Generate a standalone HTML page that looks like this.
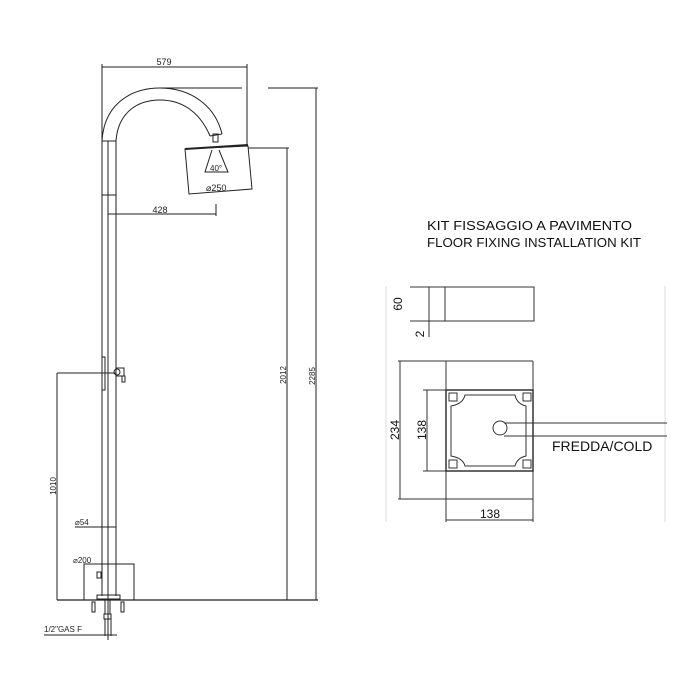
<!DOCTYPE html>
<html><head><style>body{margin:0;background:#fff}svg{display:block}</style></head><body>
<svg width="700" height="700" viewBox="0 0 700 700" font-family="Liberation Sans, sans-serif">
<g fill="none" stroke="#222" stroke-width="1">
<line x1="102" y1="67" x2="247" y2="67"/>
<line x1="102" y1="64" x2="102" y2="141"/>
<line x1="247" y1="64" x2="247" y2="146"/>
<path d="M102,141 C104,105 130,88 160,88 C190,88 215,105 222,134"/>
<path d="M116,141 C118,112 138,100 160,100 C182,100 200,112 210,136"/>
<line x1="210" y1="136" x2="222" y2="134"/>
<rect x="213" y="134" width="5" height="8"/>
<line x1="102" y1="141" x2="102" y2="596"/>
<line x1="108" y1="141" x2="108" y2="640"/>
<line x1="116" y1="141" x2="116" y2="596"/>
<line x1="102" y1="141" x2="116" y2="141"/>
<line x1="102" y1="195" x2="116" y2="195"/>
<polygon points="185,149 248,146 252,189 189,194"/>
<line x1="185" y1="149" x2="248" y2="145" stroke-width="2"/>
<path d="M212,150 L205,172 L228,172 L219,150"/>
<line x1="160" y1="88" x2="242" y2="88"/>
<line x1="268" y1="88" x2="318" y2="88"/>
<line x1="316" y1="88" x2="316" y2="600"/>
<line x1="248" y1="148" x2="289" y2="148"/>
<line x1="287" y1="148" x2="287" y2="600"/>
<line x1="108" y1="214" x2="216" y2="214"/>
<line x1="216" y1="204" x2="216" y2="216"/>
<rect x="102" y="357" width="3" height="33"/>
<line x1="57" y1="373" x2="116" y2="373"/>
<line x1="57" y1="373" x2="57" y2="600"/>
<path d="M116,368 h8 v8 h-8 z"/>
<rect x="122" y="376" width="3" height="6"/>
<circle cx="117" cy="372" r="3"/>
<line x1="75" y1="527" x2="116" y2="527"/>
<rect x="84" y="564" width="50" height="36"/>
<rect x="97" y="572" width="4" height="6"/>
<rect x="97" y="595" width="23" height="4"/>
<line x1="57" y1="600" x2="318" y2="600" stroke-width="1.3"/>
<rect x="92" y="602" width="3" height="10"/>
<rect x="121" y="602" width="3" height="10"/>
<rect x="105" y="600" width="5" height="14"/>
<rect x="104" y="614" width="7" height="5"/>
<line x1="105" y1="619" x2="105" y2="636"/>
<line x1="111" y1="619" x2="111" y2="636"/>
<line x1="44" y1="635" x2="117" y2="635"/>
</g>
<g font-size="9" fill="#222">
<text x="164" y="65" text-anchor="middle">579</text>
<text x="160" y="213" text-anchor="middle">428</text>
<text x="210" y="171" font-size="8">40°</text>
<text x="206" y="191">⌀250</text>
<text x="75" y="525" font-size="8">⌀54</text>
<text x="73" y="563" font-size="8">⌀200</text>
<text x="44" y="632" font-size="8">1/2"GAS F</text>
<text transform="translate(56,486) rotate(-90)" font-size="8" text-anchor="middle">1010</text>
<text transform="translate(286,375) rotate(-90)" font-size="8" text-anchor="middle">2012</text>
<text transform="translate(315,376) rotate(-90)" font-size="8" text-anchor="middle">2285</text>
</g>
<g font-size="12.5" fill="#111">
<text x="427" y="230" textLength="205" lengthAdjust="spacingAndGlyphs">KIT FISSAGGIO A PAVIMENTO</text>
<text x="427" y="247" textLength="214" lengthAdjust="spacingAndGlyphs">FLOOR FIXING INSTALLATION KIT</text>
<text x="552" y="451" font-size="14">FREDDA/COLD</text>
</g>
<g fill="none" stroke="#333" stroke-width="1">
<line x1="386" y1="286" x2="386" y2="522" stroke="#ddd"/>
<line x1="665" y1="286" x2="665" y2="522" stroke="#ddd"/>
<rect x="445" y="287" width="89" height="34"/>
<line x1="410" y1="287" x2="445" y2="287"/>
<line x1="410" y1="321" x2="445" y2="321"/>
<line x1="429" y1="287" x2="429" y2="337"/>
<line x1="446" y1="361" x2="446" y2="522"/>
<line x1="533" y1="361" x2="533" y2="522"/>
<line x1="398" y1="361" x2="533" y2="361"/>
<line x1="398" y1="499" x2="533" y2="499"/>
<line x1="400" y1="361" x2="400" y2="499"/>
<rect x="446" y="390" width="87" height="81" stroke-width="1.5"/>
<line x1="423" y1="390" x2="446" y2="390"/>
<line x1="423" y1="471" x2="446" y2="471"/>
<line x1="427" y1="390" x2="427" y2="471"/>
<path d="M465,395 H515 Q517,404 526,406 V456 Q517,458 515,466 H465 Q463,458 451,456 V406 Q463,404 465,395 Z"/>
<rect x="449" y="393" width="8" height="8"/><rect x="523" y="393" width="8" height="8"/>
<rect x="449" y="460" width="8" height="8"/><rect x="523" y="460" width="8" height="8"/>
<circle cx="500" cy="428" r="7"/>
<line x1="504" y1="423" x2="667" y2="423"/>
<line x1="504" y1="436" x2="667" y2="436"/>
<line x1="446" y1="520" x2="533" y2="520"/>
</g>
<g font-size="12" fill="#111">
<text transform="translate(402,304) rotate(-90)" text-anchor="middle">60</text>
<text transform="translate(424,334) rotate(-90)" text-anchor="middle">2</text>
<text transform="translate(399,430) rotate(-90)" text-anchor="middle">234</text>
<text transform="translate(426,430) rotate(-90)" text-anchor="middle">138</text>
<text x="490" y="518" text-anchor="middle">138</text>
</g>
</svg>
</body></html>
